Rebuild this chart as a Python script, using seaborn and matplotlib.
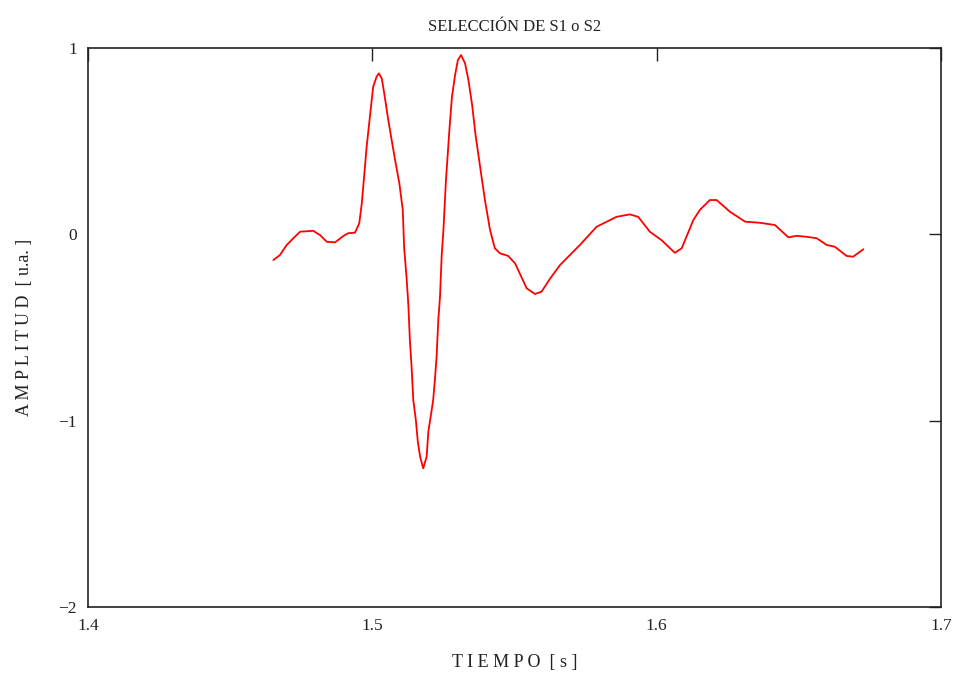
import matplotlib
matplotlib.use("Agg")
import matplotlib.pyplot as plt
import seaborn as sns
import pandas as pd

# Data (time in s, amplitude in u.a.)
tiempo = [1.4652, 1.4675, 1.4699, 1.4722, 1.4746, 1.4792, 1.4816, 1.4840, 1.4869, 1.4898,
          1.4915, 1.4939, 1.4954, 1.4963, 1.4971, 1.4980, 1.4994, 1.5003, 1.5015, 1.5023,
          1.5033, 1.5041, 1.5056, 1.5068, 1.5080, 1.5095, 1.5107, 1.5112, 1.5121, 1.5127,
          1.5132, 1.5138, 1.5144, 1.5153, 1.5160, 1.5168, 1.5179, 1.5191, 1.5197, 1.5206,
          1.5214, 1.5220, 1.5226, 1.5232, 1.5238, 1.5244, 1.5250, 1.5259, 1.5271, 1.5280,
          1.5291, 1.5301, 1.5312, 1.5326, 1.5338, 1.5351, 1.5363, 1.5379, 1.5396, 1.5414,
          1.5431, 1.5449, 1.5478, 1.5502, 1.5543, 1.5572, 1.5595, 1.5625, 1.5660, 1.5730,
          1.5789, 1.5859, 1.5906, 1.5935, 1.5976, 1.6017, 1.6064, 1.6088, 1.6129, 1.6152,
          1.6187, 1.6211, 1.6258, 1.6311, 1.6363, 1.6416, 1.6463, 1.6492, 1.6527, 1.6563,
          1.6598, 1.6627, 1.6668, 1.6691, 1.6727]
amplitud = [-0.138, -0.111, -0.057, -0.021, 0.014, 0.019, -0.004, -0.040, -0.043, -0.009,
            0.006, 0.009, 0.059, 0.167, 0.309, 0.470, 0.667, 0.792, 0.846, 0.864,
            0.837, 0.765, 0.614, 0.506, 0.399, 0.274, 0.131, -0.075, -0.245, -0.388,
            -0.567, -0.710, -0.889, -0.996, -1.113, -1.193, -1.256, -1.193, -1.059, -0.970,
            -0.889, -0.782, -0.657, -0.460, -0.335, -0.111, 0.023, 0.292, 0.560, 0.737,
            0.855, 0.936, 0.962, 0.918, 0.828, 0.694, 0.533, 0.363, 0.184, 0.023,
            -0.075, -0.102, -0.116, -0.156, -0.290, -0.320, -0.308, -0.238, -0.165, -0.057,
            0.041, 0.094, 0.107, 0.094, 0.014, -0.031, -0.099, -0.075, 0.077, 0.131,
            0.184, 0.184, 0.121, 0.068, 0.062, 0.050, -0.016, -0.008, -0.013, -0.021,
            -0.057, -0.067, -0.116, -0.120, -0.080]

x_ticks = [1.4, 1.5, 1.6, 1.7]
x_ticklabels = ["1.4", "1.5", "1.6", "1.7"]
y_ticks = [1, 0, -1, -2]
y_ticklabels = ["1", "0", "\u22121", "\u22122"]

title = "SELECCIÓN DE S1 o S2"
xlabel = "T I E M P O  [ s ]"
ylabel = "A M P L I T U D  [ u.a. ]"

sns.set_style("white")
plt.rcParams["font.family"] = ["Liberation Serif", "DejaVu Serif"]

fig = plt.figure(figsize=(9.62, 6.85), dpi=100)
ax = fig.add_axes([88 / 962, 1 - 607 / 685, (941 - 88) / 962, (607 - 48) / 685])

df = pd.DataFrame({"t": tiempo, "a": amplitud})
sns.lineplot(data=df, x="t", y="a", ax=ax, color="#ff0000", linewidth=1.3,
             sort=False, solid_joinstyle="round")

ax.set_xlim(1.4, 1.7)
ax.set_ylim(-2, 1)
ax.set_xticks(x_ticks)
ax.set_xticklabels(x_ticklabels)
ax.set_yticks(y_ticks)
ax.set_yticklabels(y_ticklabels)
ax.tick_params(axis="both", direction="in", length=9, width=1, colors="#222222",
               labelsize=12.5, labelcolor="#222222", top=True, right=True)
ax.tick_params(axis="x", pad=8)
ax.tick_params(axis="y", pad=8)

for s in ax.spines.values():
    s.set_visible(True)
    s.set_color("#222222")
    s.set_linewidth(1.2)

ax.set_title(title, fontsize=12, pad=12, color="#222222")
ax.set_xlabel(xlabel, fontsize=13, labelpad=14, color="#222222")
ax.set_ylabel(ylabel, fontsize=13, labelpad=18, color="#222222")

fig.savefig("out.png", dpi=100, facecolor="white")
